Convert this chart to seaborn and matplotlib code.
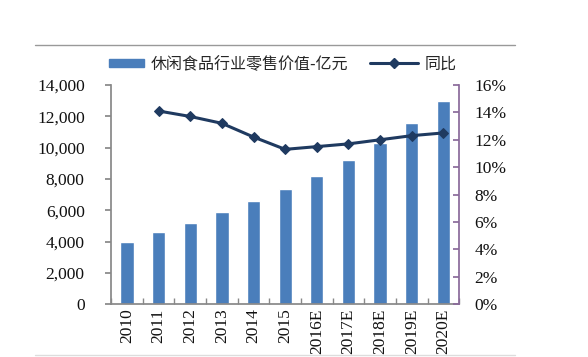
import matplotlib
matplotlib.use("Agg")
import matplotlib.pyplot as plt
import seaborn as sns
import numpy as np
import pandas as pd
from matplotlib.ticker import FuncFormatter, MultipleLocator
from matplotlib.lines import Line2D
from matplotlib.patches import Patch, Rectangle
from matplotlib.legend_handler import HandlerPatch

categories = ["2010", "2011", "2012", "2013", "2014", "2015", "2016E", "2017E", "2018E", "2019E", "2020E"]
sales = [4000, 4600, 5200, 5900, 6600, 7350, 8200, 9200, 10300, 11550, 13000]
yoy_categories = categories[1:]
yoy = [14.1, 13.7, 13.2, 12.2, 11.3, 11.5, 11.7, 12.0, 12.3, 12.5]
bar_label = "休闲食品行业零售价值-亿元"
line_label = "同比"

sns.set_theme(style="white")
plt.rcParams['font.family'] = ['Liberation Serif', 'Noto Sans CJK SC', 'DejaVu Sans']

bar_color = "#4a7ebb"
line_color = "#1f3a60"
fs = 12.5

fig = plt.figure(figsize=(5.88, 3.57), dpi=100)
ax = fig.add_axes([0.189, 0.148, 0.592, 0.614])
df = pd.DataFrame({"year": categories, "sales": sales})
sns.barplot(data=df, x="year", y="sales", order=categories, color=bar_color,
            width=0.42, saturation=1, ax=ax)
ax.set_xlim(-0.5, len(categories) - 0.5)
ax.set_ylim(0, 14000)
ax.yaxis.set_major_locator(MultipleLocator(2000))
ax.yaxis.set_major_formatter(FuncFormatter(lambda v, p: f"{int(v):,}"))
ax.set_xlabel("")
ax.set_ylabel("")
for lab in ax.get_xticklabels():
    lab.set_rotation(90)
ax.tick_params(axis="x", labelsize=fs, length=0, pad=3, labelcolor="#111111")
ax.tick_params(axis="y", labelsize=fs, left=True, length=4, color="#888888", pad=15, labelcolor="#111111")
ax.set_xticks(np.arange(-0.5, len(categories), 1.0), minor=True)
ax.tick_params(axis="x", which="minor", direction="in", bottom=True, length=4, color="#888888")
for s in ["top", "right"]:
    ax.spines[s].set_visible(False)
ax.spines["left"].set_color("#888888")
ax.spines["bottom"].set_color("#888888")

ax2 = ax.twinx()
dfl = pd.DataFrame({"pos": [categories.index(c) for c in yoy_categories], "yoy": yoy})
sns.lineplot(data=dfl, x="pos", y="yoy", color=line_color, linewidth=2.2,
             marker="D", markersize=5.5, markeredgecolor=line_color, ax=ax2)
ax2.set_ylim(0, 16)
ax2.yaxis.set_major_locator(MultipleLocator(2))
ax2.yaxis.set_major_formatter(FuncFormatter(lambda v, p: f"{int(v)}%"))
ax2.set_ylabel("")
ax2.set_xlabel("")
ax2.tick_params(axis="y", labelsize=fs, right=True, direction="in", length=4, color="#8a6a9a", pad=11, labelcolor="#111111")
for s in ["top", "left", "bottom"]:
    ax2.spines[s].set_visible(False)
ax2.spines["right"].set_color("#8a6a9a")
ax2.set_xlim(-0.5, len(categories) - 0.5)


def short_patch(legend, orig_handle, xdescent, ydescent, width, height, fontsize):
    w = width * 0.72
    return Rectangle((width - w - xdescent, -ydescent + height * 0.15), w, height * 0.7)


handles = [Patch(facecolor=bar_color, edgecolor=bar_color),
           Line2D([0], [0], color=line_color, linewidth=2.2, marker="D", markersize=5)]
fig.legend(handles, [bar_label, line_label], loc="center", bbox_to_anchor=(0.47, 0.82),
           ncol=2, frameon=False, handlelength=3.0, handletextpad=0.4, columnspacing=1.4,
           handler_map={Patch: HandlerPatch(patch_func=short_patch)},
           prop={'family': ['Noto Sans CJK SC', 'DejaVu Sans'], 'size': 11.5})

fig.add_artist(Line2D([0.06, 0.876], [0.874, 0.874], transform=fig.transFigure, color="#999999", linewidth=1))
fig.add_artist(Line2D([0.06, 0.876], [0.006, 0.006], transform=fig.transFigure, color="#dddddd", linewidth=1))

fig.savefig("out.png", dpi=100, facecolor="white")
